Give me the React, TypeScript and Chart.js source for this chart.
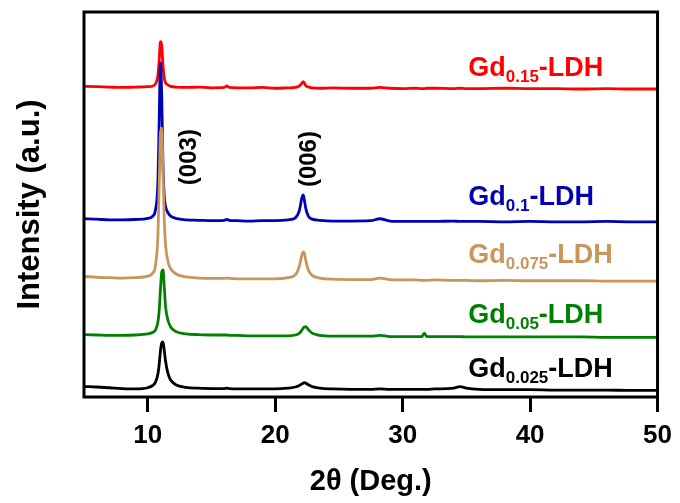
import React, { useEffect, useRef } from "react";
import { Chart, registerables } from "chart.js";

Chart.register(...registerables);

// 2θ grid (degrees)
const theta = [5, 6, 7, 8, 9, 10, 10.4, 10.6, 10.8, 10.9, 11.0, 11.1, 11.2, 11.3, 11.4, 11.6, 11.8, 12.2, 13, 14, 15, 16, 16.2, 16.4, 17, 18, 19, 20, 21, 21.6, 21.9, 22.1, 22.2, 22.3, 22.4, 22.6, 22.9, 23.5, 24.5, 26, 27.5, 28.2, 29, 30, 31, 31.5, 31.7, 31.9, 32.5, 34, 34.5, 35, 36, 38, 40, 42, 44, 46, 48, 50];

// intensities (a.u., stacked with offsets as in the figure)
const gd015 = [80.7, 80.6, 80.5, 80.4, 80.5, 80.6, 80.8, 81.3, 83.5, 87.5, 92.3, 91.2, 86.0, 82.8, 81.6, 81.0, 80.7, 80.5, 80.4, 80.5, 80.3, 80.4, 80.8, 80.4, 80.3, 80.3, 80.4, 80.2, 80.3, 80.4, 80.8, 81.5, 81.9, 81.5, 80.9, 80.5, 80.3, 80.2, 80.3, 80.2, 80.2, 80.4, 80.2, 80.1, 80.2, 80.1, 80.1, 80.2, 80.2, 80.1, 80.2, 80.1, 80.1, 80.2, 80.1, 80.1, 80.0, 80.1, 80.0, 80.0];
const gd01 = [46.3, 46.2, 46.0, 46.0, 46.1, 46.4, 47.0, 48.5, 56.0, 72.0, 86.8, 78.0, 60.0, 52.0, 49.5, 47.8, 47.0, 46.4, 46.0, 45.9, 45.8, 45.9, 46.1, 45.9, 45.8, 45.7, 45.8, 45.8, 46.0, 46.6, 48.5, 51.8, 52.5, 51.0, 49.0, 47.0, 46.2, 45.9, 45.7, 45.7, 45.8, 46.3, 45.7, 45.6, 45.6, 45.6, 45.6, 45.6, 45.6, 45.7, 45.6, 45.6, 45.6, 45.5, 45.6, 45.5, 45.5, 45.6, 45.5, 45.5];
const gd0075 = [31.3, 31.1, 31.0, 30.9, 31.0, 31.4, 32.2, 34.0, 42.0, 55.0, 68.5, 69.8, 58.0, 46.0, 39.5, 35.0, 33.3, 32.0, 31.2, 30.9, 30.8, 30.8, 30.9, 30.8, 30.7, 30.7, 30.7, 30.7, 31.0, 31.8, 34.0, 37.0, 37.7, 37.2, 35.5, 33.0, 31.6, 30.9, 30.6, 30.5, 30.5, 30.9, 30.5, 30.4, 30.4, 30.3, 30.3, 30.3, 30.4, 30.3, 30.3, 30.3, 30.2, 30.3, 30.2, 30.2, 30.2, 30.1, 30.1, 30.1];
const gd005 = [16.2, 16.1, 16.0, 16.0, 16.1, 16.4, 16.8, 17.4, 19.5, 22.5, 28.0, 32.5, 33.0, 28.5, 23.5, 19.8, 18.2, 17.0, 16.4, 16.2, 16.1, 16.1, 16.1, 16.0, 16.0, 15.9, 15.9, 15.9, 15.9, 16.1, 16.6, 17.4, 17.9, 18.2, 18.3, 17.5, 16.6, 16.0, 15.8, 15.8, 15.8, 16.0, 15.7, 15.7, 15.7, 15.7, 16.6, 15.7, 15.7, 15.7, 15.7, 15.6, 15.6, 15.6, 15.6, 15.6, 15.6, 15.5, 15.5, 15.5];
const gd0025 = [2.7, 2.6, 2.4, 2.2, 2.1, 2.4, 3.0, 3.8, 6.0, 8.5, 12.0, 14.0, 14.3, 12.0, 9.3, 6.0, 4.4, 3.2, 2.5, 2.3, 2.2, 2.2, 2.3, 2.2, 2.1, 2.1, 2.1, 2.1, 2.3, 2.6, 3.0, 3.4, 3.6, 3.7, 3.6, 3.2, 2.7, 2.3, 2.1, 2.0, 2.0, 2.1, 2.0, 2.0, 2.0, 2.0, 2.0, 2.0, 2.1, 2.3, 2.7, 2.3, 2.0, 1.9, 1.9, 1.8, 1.8, 1.8, 1.7, 1.7];

const seriesSubs = ["0.025", "0.05", "0.075", "0.1", "0.15"];
const xTicks = [10, 20, 30, 40, 50];
const peakLabels = ["(003)", "(006)"];

const FONT = "'Liberation Sans', Arial, sans-serif";

export default function App() {
  const ref = useRef<HTMLCanvasElement | null>(null);

  useEffect(() => {
    const canvas = ref.current;
    if (!canvas) return;
    const colors = ["#000000", "#008000", "#c8965a", "#0000b4", "#ff0000"];
    const series = [gd0025, gd005, gd0075, gd01, gd015];
    // label anchors (data coords): left x, baseline y
    const labelPos = [
      [35.15, 5.2],
      [35.15, 19.3],
      [35.15, 34.8],
      [35.15, 49.8],
      [35.15, 83.4],
    ];
    const peakPos = [
      [13.3, 62.3],
      [22.65, 61.8],
    ];

    const decor = {
      id: "decor",
      afterDatasetsDraw(chart: any) {
        const { ctx, scales } = chart;
        const xs = scales.x;
        const ys = scales.y;
        ctx.save();
        ctx.textBaseline = "alphabetic";
        ctx.textAlign = "left";
        seriesSubs.forEach((sub, i) => {
          const x0 = xs.getPixelForValue(labelPos[i][0]);
          const y0 = ys.getPixelForValue(labelPos[i][1]);
          ctx.fillStyle = colors[i];
          ctx.font = `bold 27px ${FONT}`;
          ctx.fillText("Gd", x0, y0);
          let x = x0 + ctx.measureText("Gd").width;
          ctx.font = `bold 17px ${FONT}`;
          ctx.fillText(sub, x, y0 + 6);
          x += ctx.measureText(sub).width;
          ctx.font = `bold 27px ${FONT}`;
          ctx.fillText("-LDH", x, y0);
        });
        peakLabels.forEach((t, i) => {
          const px = xs.getPixelForValue(peakPos[i][0]);
          const py = ys.getPixelForValue(peakPos[i][1]);
          ctx.save();
          ctx.translate(px, py);
          ctx.rotate(-Math.PI / 2);
          ctx.fillStyle = "#000";
          ctx.font = `bold 24px ${FONT}`;
          ctx.textAlign = "center";
          ctx.textBaseline = "middle";
          ctx.fillText(t, 0, 0);
          ctx.restore();
        });
        ctx.restore();
      },
      afterDraw(chart: any) {
        const { ctx, chartArea } = chart;
        ctx.save();
        ctx.strokeStyle = "#000";
        ctx.lineWidth = 3;
        ctx.strokeRect(
          chartArea.left,
          chartArea.top,
          chartArea.right - chartArea.left,
          chartArea.bottom - chartArea.top
        );
        ctx.restore();
      },
    };

    const chart = new Chart(canvas, {
      type: "line",
      data: {
        datasets: series.map((s, i) => ({
          label: "Gd" + seriesSubs[i] + "-LDH",
          data: theta.map((t, j) => ({ x: t, y: s[j] })),
          borderColor: colors[i],
          borderWidth: 2.8,
          pointRadius: 0,
          cubicInterpolationMode: "monotone" as const,
          fill: false,
        })),
      },
      options: {
        animation: false,
        responsive: false,
        maintainAspectRatio: false,
        events: [],
        layout: { padding: { top: 12, right: 20, left: 0, bottom: 0 } },
        plugins: {
          legend: { display: false },
          tooltip: { enabled: false },
        },
        scales: {
          x: {
            type: "linear",
            min: 5,
            max: 50,
            afterBuildTicks: (scale: any) => {
              scale.ticks = xTicks.map((v) => ({ value: v }));
            },
            afterFit: (scale: any) => {
              scale.height = 106;
            },
            border: { display: false },
            grid: {
              drawOnChartArea: false,
              drawTicks: true,
              tickLength: 15,
              color: "#000",
              lineWidth: 3,
            },
            ticks: {
              color: "#000",
              padding: 8,
              maxRotation: 0,
              font: { family: FONT, size: 26, weight: "bold" },
            },
            title: {
              display: true,
              text: "2θ (Deg.)",
              color: "#000",
              padding: { top: 0, bottom: 4 },
              font: { family: FONT, size: 29, weight: "bold" },
            },
          },
          y: {
            type: "linear",
            min: 0,
            max: 100,
            afterFit: (scale: any) => {
              scale.width = 84;
            },
            border: { display: false },
            grid: { display: false },
            ticks: { display: false },
            title: {
              display: true,
              text: "Intensity (a.u.)",
              color: "#000",
              padding: { top: 12, bottom: 0 },
              font: { family: FONT, size: 31, weight: "bold" },
            },
          },
        },
      },
      plugins: [decor],
    });
    return () => chart.destroy();
  }, []);

  return (
    <div style={{ position: "fixed", left: 0, top: 0, width: 680, height: 503, background: "#fff" }}>
      <canvas ref={ref} width={680} height={503} style={{ display: "block", width: 680, height: 503 }} />
    </div>
  );
}
